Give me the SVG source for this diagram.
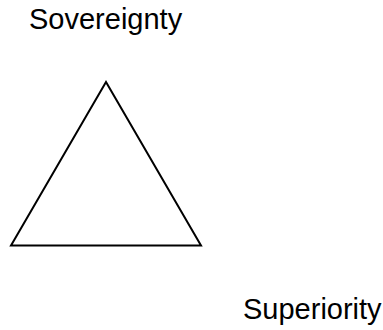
<svg xmlns="http://www.w3.org/2000/svg" width="383" height="330" viewBox="0 0 383 330">
<style>
.lbl{font-family:"Liberation Sans",Arial,sans-serif;font-size:29px;fill:#000}
.tri{fill:#fff;stroke:#000;stroke-width:2;stroke-linejoin:miter}
</style>
<rect width="383" height="330" fill="#fff"/>
<g id="triangle"><polygon class="tri" points="106,82 11,245.5 201,245.5"/></g>
<g id="sovereignty"><text class="lbl" x="29" y="28.5">Sovereignty</text></g>
<g id="superiority"><text class="lbl" x="243" y="319">Superiority</text></g>
<g id="connectors"></g>
</svg>
